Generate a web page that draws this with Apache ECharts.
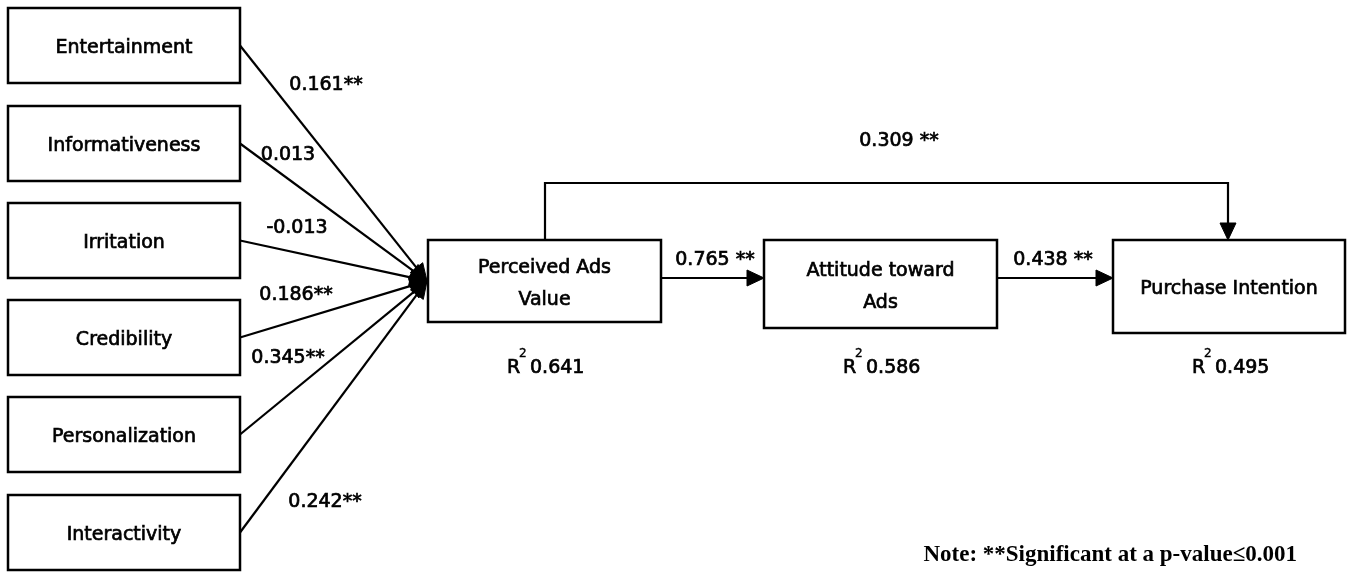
<!DOCTYPE html>
<html>
<head>
<meta charset="utf-8">
<script src="https://cdn.jsdelivr.net/npm/echarts@6/dist/echarts.min.js"></script>
<style>
html,body{margin:0;padding:0;background:#fff;}
#chart{width:1349px;height:578px;}
</style>
</head>
<body>
<div id="chart"></div>
<script>
// ---------- data ----------
const factorNames = ['Entertainment', 'Informativeness', 'Irritation', 'Credibility', 'Personalization', 'Interactivity'];
const factorCoefs = ['0.161**', '0.013', '-0.013', '0.186**', '0.345**', '0.242**'];
const outcomeNames = ['Perceived Ads\nValue', 'Attitude toward\nAds', 'Purchase Intention'];
const chainCoefs = ['0.765 **', '0.438 **'];
const directCoef = '0.309 **';
const rSquared = ['0.641', '0.586', '0.495'];
const noteText = 'Note: **Significant at a p-value\u22640.001';

// ---------- layout (diagram units, mapped through hidden value axes) ----------
const factorBoxX = 8, factorBoxW = 232, factorBoxH = 75;
const factorBoxTops = [8, 106, 203, 300, 397, 495];
const outcomeBoxes = [[428, 240, 233, 82], [764, 240, 233, 88], [1113, 240, 232, 93]];
const hub = [427, 281];
const factorLabelPos = [[326, 85], [288, 155], [297, 228], [296, 295], [288, 358], [325, 502]];
const chainLabelPos = [[715, 260], [1053, 260]];
const directLabelPos = [899, 141];
const rLabelPos = [[507, 368], [843, 368], [1192, 368]];
const notePos = [1297, 555];
const directRoute = [[545, 240], [545, 183], [1228, 183], [1228, 240]];
const chainY = 278;

const FAMILY = '"DejaVu Sans", Verdana, sans-serif';
const FSIZE = 19;

// boxes
const boxes = [];
factorNames.forEach((n, i) => boxes.push({ name: n, value: [factorBoxX, factorBoxTops[i], factorBoxW, factorBoxH] }));
outcomeNames.forEach((n, i) => boxes.push({ name: n, value: outcomeBoxes[i].slice() }));

// edges (polylines, arrow at last point)
const edges = [];
factorNames.forEach((n, i) => edges.push([[factorBoxX + factorBoxW, factorBoxTops[i] + factorBoxH / 2], hub]));
edges.push([[outcomeBoxes[0][0] + outcomeBoxes[0][2], chainY], [outcomeBoxes[1][0], chainY]]);
edges.push([[outcomeBoxes[1][0] + outcomeBoxes[1][2], chainY], [outcomeBoxes[2][0], chainY]]);
edges.push(directRoute);

// text labels
const labels = [];
factorCoefs.forEach((t, i) => labels.push({ text: t, value: factorLabelPos[i] }));
chainCoefs.forEach((t, i) => labels.push({ text: t, value: chainLabelPos[i] }));
labels.push({ text: directCoef, value: directLabelPos });

function txt(text, x, y, extra) {
  return Object.assign({
    text: text, x: x, y: y, align: 'center', verticalAlign: 'middle',
    fontFamily: FAMILY, fontSize: FSIZE, fontWeight: 'normal', fill: '#000',
    stroke: '#000', lineWidth: 0.7
  }, extra || {});
}

const chart = echarts.init(document.getElementById('chart'), null, { renderer: 'canvas' });

chart.setOption({
  backgroundColor: '#ffffff',
  animation: false,
  grid: { left: 0, right: 0, top: 0, bottom: 0 },
  xAxis: { type: 'value', min: 0, max: 1349, show: false },
  yAxis: { type: 'value', min: 0, max: 578, inverse: true, show: false },
  series: [
    {
      type: 'custom',
      name: 'edges',
      clip: false,
      data: edges.map(e => e[0]),
      encode: { x: 0, y: 1 },
      renderItem: function (params, api) {
        const pts = edges[params.dataIndex].map(p => api.coord(p));
        const a = pts[pts.length - 1], b = pts[pts.length - 2];
        const dx = a[0] - b[0], dy = a[1] - b[1];
        const len = Math.sqrt(dx * dx + dy * dy);
        const ux = dx / len, uy = dy / len;
        const L = 17, W = 8;
        const bx = a[0] - ux * L, by = a[1] - uy * L;
        const line = pts.slice(0, -1).concat([[bx, by]]);
        return {
          type: 'group',
          children: [
            { type: 'polyline', shape: { points: line }, style: { stroke: '#000', lineWidth: 2.2, fill: null } },
            {
              type: 'polygon',
              shape: { points: [a, [bx - uy * W, by + ux * W], [bx + uy * W, by - ux * W]] },
              style: { fill: '#000', stroke: '#000', lineWidth: 1 }
            }
          ]
        };
      }
    },
    {
      type: 'custom',
      name: 'boxes',
      clip: false,
      data: boxes,
      encode: { x: 0, y: 1 },
      renderItem: function (params, api) {
        const x = api.value(0), y = api.value(1), w = api.value(2), h = api.value(3);
        const p0 = api.coord([x, y]), p1 = api.coord([x + w, y + h]);
        const c = api.coord([x + w / 2, y + h / 2 + 3]);
        return {
          type: 'group',
          children: [
            {
              type: 'rect',
              shape: { x: p0[0], y: p0[1], width: p1[0] - p0[0], height: p1[1] - p0[1] },
              style: { fill: '#fff', stroke: '#000', lineWidth: 2.5 }
            },
            { type: 'text', style: txt(boxes[params.dataIndex].name, c[0], c[1], { lineHeight: 32 }) }
          ]
        };
      }
    },
    {
      type: 'custom',
      name: 'coefs',
      clip: false,
      data: labels,
      encode: { x: 0, y: 1 },
      renderItem: function (params, api) {
        const p = api.coord([api.value(0), api.value(1)]);
        return { type: 'text', style: txt(labels[params.dataIndex].text, p[0], p[1]) };
      }
    },
    {
      type: 'custom',
      name: 'r2',
      clip: false,
      data: rLabelPos,
      encode: { x: 0, y: 1 },
      renderItem: function (params, api) {
        const p = api.coord([api.value(0), api.value(1)]);
        return {
          type: 'group',
          children: [
            { type: 'text', style: txt('R', p[0], p[1], { align: 'left' }) },
            { type: 'text', style: txt('2', p[0] + 12, p[1] - 14, { align: 'left', fontSize: 12, lineWidth: 0.4 }) },
            { type: 'text', style: txt(rSquared[params.dataIndex], p[0] + 23, p[1], { align: 'left' }) }
          ]
        };
      }
    },
    {
      type: 'custom',
      name: 'note',
      clip: false,
      data: [notePos],
      encode: { x: 0, y: 1 },
      renderItem: function (params, api) {
        const p = api.coord([api.value(0), api.value(1)]);
        return {
          type: 'text',
          style: txt(noteText, p[0], p[1], {
            align: 'right', fontFamily: '"Liberation Serif", "Times New Roman", serif',
            fontWeight: 'bold', fontSize: 23, lineWidth: 0
          })
        };
      }
    }
  ]
});
</script>
</body>
</html>
